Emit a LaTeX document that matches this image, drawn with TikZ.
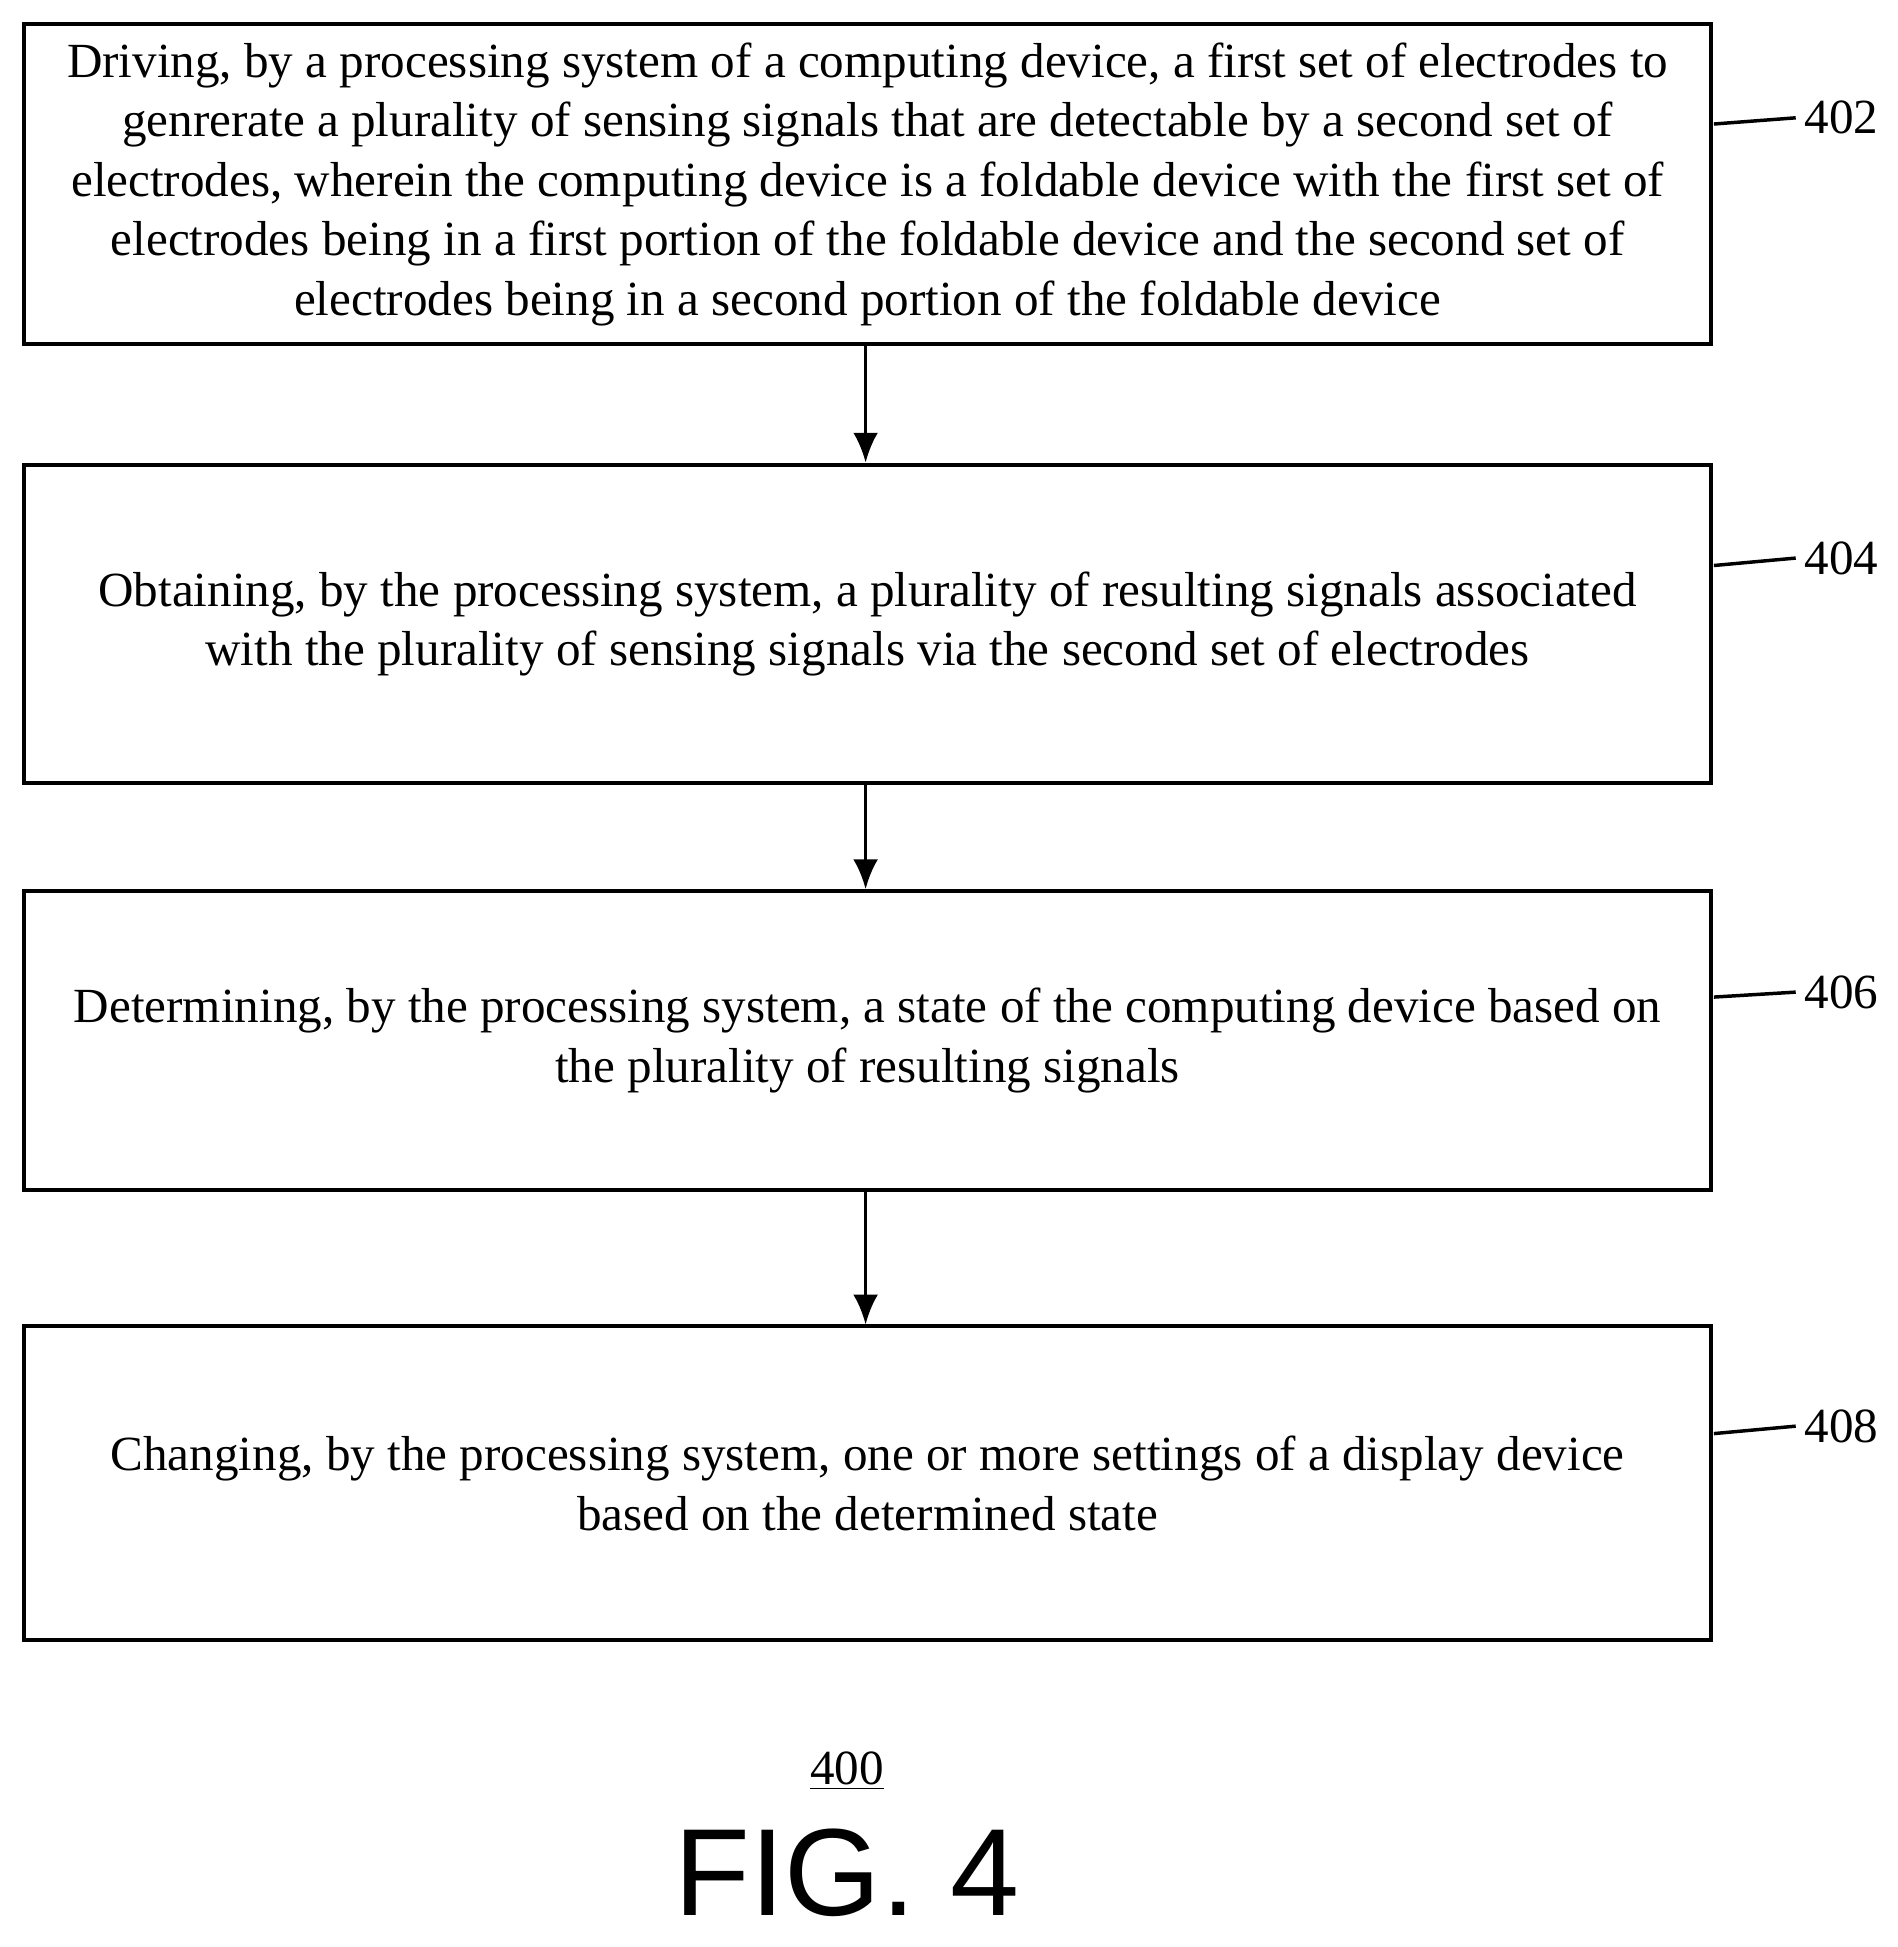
\documentclass[tikz,border=0pt]{standalone}
\usepackage{fontspec}
\setmainfont{Liberation Serif}
\newfontfamily\figfont{Liberation Sans}
\begin{document}
\begin{tikzpicture}[x=0.5pt,y=-0.5pt,
  box/.style={draw,line width=1.6pt,minimum width=680pt,align=center,inner sep=0pt,font=\fontsize{19.8}{24}\selectfont,anchor=north west},
  arr/.style={line width=1.4pt,-{Latex[length=12pt,width=10pt]}},
  lead/.style={line width=1.4pt},
  num/.style={font=\fontsize{19.8}{24}\selectfont,anchor=west}]
\usetikzlibrary{arrows.meta}
\useasboundingbox (0,0) rectangle (1530,1570);
\node[box,minimum height=129pt] (b1) at (18,18) {Driving, by a processing system of a computing device, a first set of electrodes to\\genrerate a plurality of sensing signals that are detectable by a second set of\\electrodes, wherein the computing device is a foldable device with the first set of\\electrodes being in a first portion of the foldable device and the second set of\\electrodes being in a second portion of the foldable device};
\node[box,minimum height=128.5pt] (b2) at (18,373) {Obtaining, by the processing system, a plurality of resulting signals associated\\with the plurality of sensing signals via the second set of electrodes};
\node[box,minimum height=120.5pt] (b3) at (18,717) {Determining, by the processing system, a state of the computing device based on\\the plurality of resulting signals};
\node[box,minimum height=126.5pt] (b4) at (18,1068) {Changing, by the processing system, one or more settings of a display device\\based on the determined state};
\draw[arr] (b1.south -| 698,0) -- (b2.north -| 698,0);
\draw[arr] (b2.south -| 698,0) -- (b3.north -| 698,0);
\draw[arr] (b3.south -| 698,0) -- (b4.north -| 698,0);
\node[num] (n1) at (1448,95) {402};
\node[num] (n2) at (1448,450) {404};
\node[num] (n3) at (1448,800) {406};
\node[num] (n4) at (1448,1150) {408};
\draw[lead] (1382,100) -- (n1.west);
\draw[lead] (1382,456) -- (n2.west);
\draw[lead] (1382,804) -- (n3.west);
\draw[lead] (1382,1156) -- (n4.west);
\node[font=\fontsize{19.8}{24}\selectfont] (t400) at (683,1428) {\underline{400}};
\node[font=\figfont\fontsize{50}{54}\selectfont] (fig) at (683,1510) {FIG. 4};
\end{tikzpicture}
\end{document}
